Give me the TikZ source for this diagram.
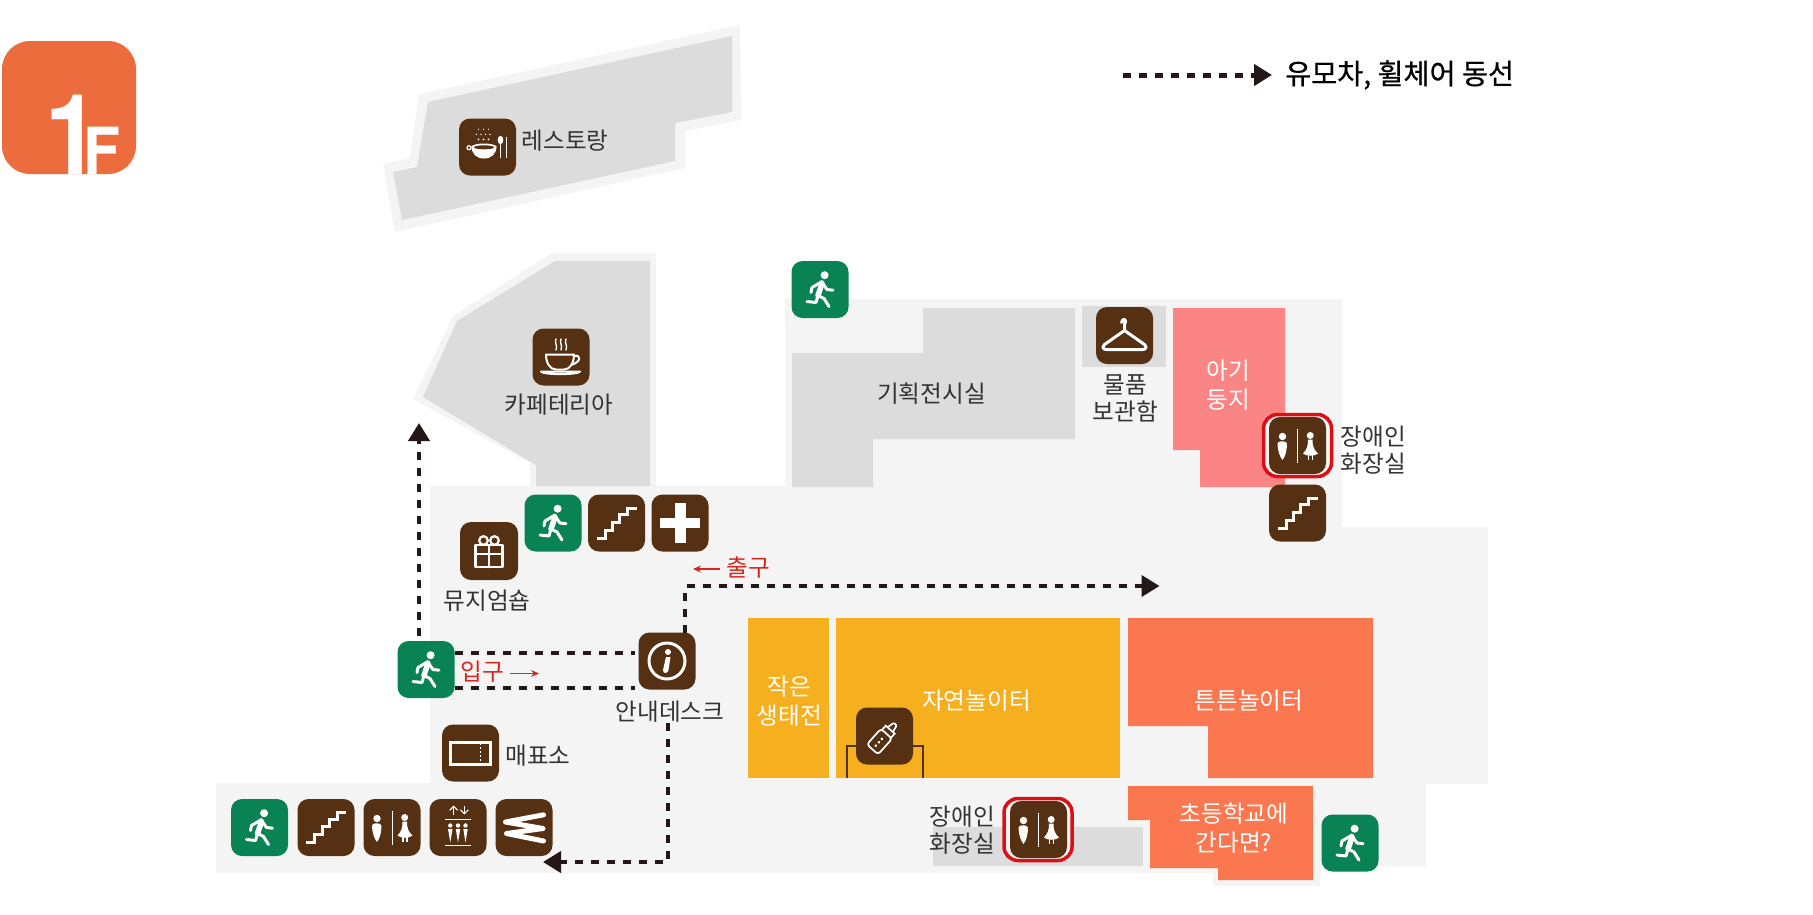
\documentclass[tikz,border=0pt]{standalone}
\usepackage{fontspec}
\setmainfont{Noto Sans CJK KR}
\newfontfamily\legendfont[FakeBold=0.6]{Noto Sans CJK KR}
\newfontfamily\badgefont{TeX Gyre Heros}
\usetikzlibrary{arrows.meta}
\definecolor{floorgray}{HTML}{F4F4F4}
\definecolor{roomgray}{HTML}{DCDCDC}
\definecolor{badgeorange}{HTML}{EC6C3E}
\definecolor{iconbrown}{HTML}{553013}
\definecolor{icongreen}{HTML}{0A8354}
\definecolor{nestpink}{HTML}{FB8585}
\definecolor{playyellow}{HTML}{F5AF1F}
\definecolor{playorange}{HTML}{FB7750}
\definecolor{framered}{HTML}{DD0F16}
\definecolor{signred}{HTML}{D9261C}
\definecolor{routeblack}{HTML}{231815}
\definecolor{textgray}{HTML}{333333}
\tikzset{brownicon/.style={shape=rectangle, rounded corners=11pt, fill=iconbrown, inner sep=0pt, outer sep=0pt, minimum width=57pt, minimum height=57pt}}
\tikzset{greenicon/.style={brownicon, fill=icongreen}}
\tikzset{redframe/.style={shape=rectangle, rounded corners=14pt, draw=framered, fill=floorgray, line width=3.5pt, inner sep=0pt, minimum width=68pt, minimum height=62pt}}
\tikzset{roomtext/.style={font=\fontsize{23.6}{27}\selectfont, text=textgray, align=center, inner sep=0pt}}
\tikzset{whitetext/.style={roomtext, text=white, font=\fontsize{23.6}{29}\selectfont}}
\tikzset{redtext/.style={roomtext, text=signred}}
\tikzset{route/.style={color=routeblack, line width=4pt, dash pattern=on 8pt off 8pt, -{Triangle[length=18pt,width=21pt]}}}
\tikzset{plainroute/.style={route, -}}
\tikzset{redarrow/.style={color=signred, line width=1.2pt, -{Stealth[length=8pt,width=7pt]}}}
\tikzset{glyphline/.style={draw=white, line width=3pt, line cap=round, line join=round}}
\tikzset{pics/runnerglyph/.style={code={
\fill[white] (4.6,-14.3) circle (4);
\draw[glyphline, line width=5.5pt] (2,-6) -- (-2,6);
\draw[glyphline] (2,-8) -- (-8,-2) -- (-9,3);
\draw[glyphline] (2,-7) -- (7,0) -- (13,0.7);
\draw[glyphline] (-2,6) -- (4,9) -- (9,17);
\draw[glyphline] (-2,6) -- (-4,13) -- (-13,12);
}}}
\tikzset{pics/stairglyph/.style={code={
\draw[draw=white, line width=3pt] (-19.6,15) -- (-11.3,15) -- (-11.3,7.3) -- (-4,7.3) -- (-4,-1) -- (3.3,-1) -- (3.3,-8.3) -- (11,-8.3) -- (11,-15) -- (20,-15);
}}}
\tikzset{pics/crossglyph/.style={code={
\fill[white] (-20,-5) rectangle (20,5);
\fill[white] (-5.5,-20) rectangle (5.5,20);
}}}
\tikzset{pics/giftglyph/.style={code={
\draw[glyphline, line width=2.2pt] (-13.5,-6) rectangle (13.5,16.3);
\draw[glyphline, line width=2.2pt] (-13.5,3) -- (13.5,3);
\draw[glyphline, line width=2.2pt] (0,-6) -- (0,16.3);
\draw[glyphline, line width=2.2pt] (-5.5,-10.5) circle (4.3);
\draw[glyphline, line width=2.2pt] (5.5,-10.5) circle (4.3);
}}}
\tikzset{pics/infoglyph/.style={code={
\draw[glyphline] (0,0) circle (18);
\fill[white] (1,-9) circle (3);
\fill[white] (-1,-4) -- (3.5,-4) -- (1.5,9) .. controls (0.5,13) and (-4,13) .. (-4,9) --cycle;
}}}
\tikzset{pics/ticketglyph/.style={code={
\draw[draw=white, line width=3pt] (-20,-11) rectangle (20,11);
\draw[draw=white, line width=1.6pt, dash pattern=on 1.6pt off 2.4pt] (10,-10) -- (10,10);
}}}
\tikzset{pics/toiletglyph/.style={code={
\draw[draw=white, line width=0.5pt] (0,-17) -- (0,17);
\fill[white] (-15,-9) circle (3.7);
\fill[white] (-20,-2) .. controls (-20,-5) and (-11,-5) .. (-10.5,-2) .. controls (-10.5,4) and (-12,11) .. (-15,14.5) .. controls (-18,11) and (-20,4) .. (-20,-2) --cycle;
\fill[white] (12.7,-10) circle (3.5);
\fill[white] (10.5,-6) -- (15,-6) .. controls (15,0) and (16,4) .. (20.5,8) .. controls (17,11) and (9,11) .. (5.5,8) .. controls (9.5,4) and (10.5,0) .. (10.5,-6) --cycle;
\draw[draw=white, line width=1.4pt] (10.8,9) -- (10.8,14.5);
\draw[draw=white, line width=1.4pt] (14.8,9) -- (14.8,14.5);
}}}
\tikzset{pics/liftglyph/.style={code={
\draw[draw=white, line width=1.1pt, -{Straight Barb[length=4pt,width=8pt]}] (-4.3,-13) -- (-4.3,-22);
\draw[draw=white, line width=1.1pt, -{Straight Barb[length=4pt,width=8pt]}] (6.3,-22) -- (6.3,-13);
\draw[draw=white, line width=1.8pt] (-13,-8) -- (13,-8);
\draw[draw=white, line width=1.8pt] (-13,18) -- (13,18);
\fill[white] (-7.7,-2) circle (2.2);
\fill[white] (0,-2) circle (2.2);
\fill[white] (7.5,-2) circle (2.2);
\fill[white] (-10,1.5) -- (-5.5,1.5) -- (-7.7,15) --cycle;
\fill[white] (-2.2,1.5) -- (2.2,1.5) -- (0,15) --cycle;
\fill[white] (5.3,1.5) -- (9.7,1.5) -- (7.5,15) --cycle;
}}}
\tikzset{pics/escalatorglyph/.style={code={
\draw[glyphline, line width=5pt] (19.5,-12.7) -- (-18.5,-5.5) -- (19,1) -- (-17.5,6) -- (19.5,13.5);
}}}
\tikzset{pics/bottleglyph/.style={code={
\begin{scope}[rotate=-42]
\draw[draw=white, line width=1.7pt, rounded corners=3pt] (-7.5,-3) rectangle (7.5,18);
\draw[draw=white, line width=1.7pt] (-6,-3) -- (-6,-8.5) -- (6,-8.5) -- (6,-3);
\draw[draw=white, line width=1.7pt, rounded corners=1pt] (-3.5,-8.5) -- (-2,-16) -- (2,-16) -- (3.5,-8.5);
\fill[white] (0,4) circle (1.5);
\fill[white] (0,8.5) circle (1.5);
\fill[white] (0,13) circle (1.5);
\end{scope}
}}}
\tikzset{pics/hangerglyph/.style={code={
\draw[glyphline] (-3,-13) .. controls (-2,-18) and (3,-17) .. (0,-11) -- (0,-5) -- (20,9) .. controls (23,12) and (21,14) .. (18,14) -- (-18,14) .. controls (-21,14) and (-23,12) .. (-20,9) -- (0,-5);
}}}
\tikzset{pics/cupglyph/.style={code={
\draw[glyphline, line width=1.4pt] (-5,-18) .. controls (-7,-14) and (-3,-12) .. (-5,-7);
\draw[glyphline, line width=1.4pt] (0,-18) .. controls (-2,-14) and (2,-12) .. (0,-7);
\draw[glyphline, line width=1.4pt] (5,-18) .. controls (3,-14) and (7,-12) .. (5,-7);
\draw[glyphline, line width=2pt] (-15,-2.5) -- (13,-2.5) .. controls (13,6) and (9,12.5) .. (3,12.5) -- (-5,12.5) .. controls (-11,12.5) and (-15,6) .. (-15,-2.5) --cycle;
\draw[glyphline, line width=2pt] (13,-1) .. controls (20,-3) and (21,5) .. (10,8);
\draw[glyphline, line width=2pt] (-20,14.5) -- (19,14.5) .. controls (17,18) and (-18,18) .. (-20,14.5) --cycle;
}}}
\tikzset{pics/dishglyph/.style={code={
\fill[white] (-9,-17.7) circle (0.6);
\fill[white] (-4,-17.7) circle (0.6);
\fill[white] (1,-17.7) circle (0.6);
\fill[white] (-11,-12.7) circle (0.8);
\fill[white] (-6.5,-12.7) circle (0.8);
\fill[white] (-2,-12.7) circle (0.8);
\fill[white] (2.5,-12.7) circle (0.8);
\fill[white] (-9,-7.7) circle (1);
\fill[white] (-4,-7.7) circle (1);
\fill[white] (1,-7.7) circle (1);
\fill[white] (-16,-1) -- (9,-1) .. controls (9,7) and (4,11.5) .. (-3.5,11.5) .. controls (-11,11.5) and (-16,7) .. (-16,-1) --cycle;
\draw[draw=white, line width=1.2pt] (-18.5,0.7) circle (2);
\fill[white] (-3.5,0) ellipse (12.5 and 3.5);
\fill[iconbrown] (-3.5,0.3) ellipse (10 and 2);
\fill[white] (13,-7) ellipse (2.8 and 4.2);
\draw[draw=white, line width=1.5pt] (13,-3) -- (13,11);
\draw[draw=white, line width=1.3pt] (19,-10) -- (19,11);
}}}
\begin{document}
\begin{tikzpicture}[x=1pt,y=-1pt]
\useasboundingbox (0,0) rectangle (1813,914);
\fill[color = badgeorange, rounded corners=28pt] (2,41) rectangle (136,174);
\node[anchor=base west, inner sep=0pt, text=white, font=\badgefont\bfseries] (badgetext) at (45,174) {\scalebox{0.87}[1]{\fontsize{112}{112}\selectfont 1}\hspace{-15.8pt}\scalebox{0.93}[1]{\fontsize{65}{65}\selectfont F}};
\fill[color = floorgray] (740,25) -- (741,120) -- (685,131) -- (685,168) -- (395,232) -- (383,164) -- (410,158) -- (419,94) --cycle;
\fill[color = roomgray] (732,36) -- (732,112) -- (675,123) -- (675,161) -- (402,220) -- (393,172) -- (417,167) -- (428,102) --cycle;
\fill[color = floorgray] (656,253) -- (656,487) -- (530,487) -- (530,463) -- (413,399) -- (453,316) -- (552,253) --cycle;
\fill[color = roomgray] (650,261) -- (650,487) -- (536,487) -- (536,465) -- (423,397) -- (457,321) -- (555,261) --cycle;
\fill[color = floorgray] (430,486) -- (785,486) -- (785,299) -- (1342,299) -- (1342,527) -- (1488,527) -- (1488,784) -- (1426,784) -- (1426,866) -- (1320,866) -- (1320,886) -- (1213,886) -- (1213,873) -- (216,873) -- (216,783) -- (430,783) --cycle;
\fill[color = roomgray] (923,308) -- (1075,308) -- (1075,439) -- (873,439) -- (873,487) -- (792,487) -- (792,353) -- (923,353) --cycle;
\fill[color = roomgray] (1082,306) rectangle (1166,367);
\fill[color = nestpink] (1173,308) -- (1285,308) -- (1285,487) -- (1200,487) -- (1200,450) -- (1173,450) --cycle;
\fill[color = playyellow] (748,618) rectangle (829,778);
\fill[color = playyellow] (836,618) rectangle (1120,778);
\fill[color = playorange] (1128,618) -- (1373,618) -- (1373,778) -- (1208,778) -- (1208,726) -- (1128,726) --cycle;
\fill[color = playorange] (1128,786) -- (1313,786) -- (1313,880) -- (1218,880) -- (1218,868) -- (1150,868) -- (1150,820) -- (1128,820) --cycle;
\fill[color = roomgray] (933,827) rectangle (1143,866);
\draw[color = iconbrown, line width=2pt] (847,778) -- (847,746) -- (923,746) -- (923,778);
\node[style=redframe] (wcframeup) at (1297.5,445.5) {};
\node[style=redframe] (wcframedown) at (1038,829.5) {};
\node[style=brownicon] (dish) at (487.5,147) {};
\pic at (dish) {dishglyph};
\node[style=brownicon] (cup) at (561,357) {};
\pic at (cup) {cupglyph};
\node[style=greenicon] (exittop) at (820,289.5) {};
\pic at (exittop) {runnerglyph};
\node[style=brownicon] (locker) at (1124.5,335.5) {};
\pic at (locker) {hangerglyph};
\node[style=brownicon] (wcup) at (1297.5,445.5) {};
\pic at (wcup) {toiletglyph};
\node[style=brownicon] (stairright) at (1297.5,513) {};
\pic at (stairright) {stairglyph};
\node[style=greenicon] (exitmid) at (553,523) {};
\pic at (exitmid) {runnerglyph};
\node[style=brownicon] (stairmid) at (616.5,523) {};
\pic at (stairmid) {stairglyph};
\node[style=brownicon] (aid) at (680,523) {};
\pic at (aid) {crossglyph};
\node[style=brownicon, minimum width=58pt, minimum height=58pt] (gift) at (489,551) {};
\pic at (gift) {giftglyph};
\node[style=greenicon] (exitin) at (426,669.5) {};
\pic at (exitin) {runnerglyph};
\node[style=brownicon] (info) at (667,661) {};
\pic at (info) {infoglyph};
\node[style=brownicon] (ticket) at (470.5,753) {};
\pic at (ticket) {ticketglyph};
\node[style=greenicon] (exitlow) at (259.5,827.5) {};
\pic at (exitlow) {runnerglyph};
\node[style=brownicon] (stairlow) at (326,827.5) {};
\pic at (stairlow) {stairglyph};
\node[style=brownicon] (wclow) at (392,827.5) {};
\pic at (wclow) {toiletglyph};
\node[style=brownicon] (lift) at (458,827.5) {};
\pic at (lift) {liftglyph};
\node[style=brownicon] (escalator) at (524,827.5) {};
\pic at (escalator) {escalatorglyph};
\node[style=brownicon] (bottle) at (884.5,736) {};
\pic at (bottle) {bottleglyph};
\node[style=brownicon] (wcdown) at (1038.5,829.5) {};
\pic at (wcdown) {toiletglyph};
\node[style=greenicon] (exitright) at (1350,843) {};
\pic at (exitright) {runnerglyph};
\node[style=roomtext] (dishtext) at (565,141) {레스토랑};
\node[style=roomtext] (cuptext) at (559,405) {카페테리아};
\node[style=roomtext] (halltext) at (931.5,394) {기획전시실};
\node[style=roomtext] (lockertext) at (1125.5,398) {물품\\보관함};
\node[style=whitetext] (nesttext) at (1228,385) {아기\\둥지};
\node[style=roomtext] (wcuptext) at (1373.5,450) {장애인\\화장실};
\node[style=roomtext] (gifttext) at (487,601) {뮤지엄숍};
\node[style=roomtext] (desktext) at (670,712) {안내데스크};
\node[style=roomtext] (tickettext) at (538,756) {매표소};
\node[style=whitetext] (pondtext) at (789.5,701) {작은\\생태전};
\node[style=whitetext] (naturetext) at (976.5,701) {자연놀이터};
\node[style=whitetext] (strongtext) at (1249,701) {튼튼놀이터};
\node[style=whitetext] (schooltext) at (1234,828.5) {초등학교에\\간다면?};
\node[style=roomtext] (wcdowntext) at (962.5,830.5) {장애인\\화장실};
\node[style=redtext] (intext) at (482,672) {입구};
\node[style=redtext] (outtext) at (748.5,568) {출구};
\node[anchor=west, inner sep=0pt, text=black, font=\legendfont\fontsize{28.3}{32}\selectfont] (legendtext) at (1285,75) {유모차, 휠체어 동선};
\coordinate (intail) at (510,673.5);
\coordinate (inhead) at (539,673.5);
\coordinate (outtail) at (720,569);
\coordinate (outhead) at (693,569);
\draw[style=redarrow] (intail) -- (inhead);
\draw[style=redarrow] (outtail) -- (outhead);
\coordinate (legendtail) at (1123,75);
\coordinate (legendhead) at (1272,75);
\draw[style=route, line width=5pt] (legendtail) -- (legendhead);
\coordinate (uptail) at (419,636);
\coordinate (uphead) at (419,423);
\draw[style=route] (uptail) -- (uphead);
\draw[style=plainroute] (exitin.east |- 0,653) -- ([xshift=-4pt]info.west |- 0,653);
\draw[style=plainroute] (exitin.east |- 0,688) -- ([xshift=-4pt]info.west |- 0,688);
\coordinate (outturn) at (685,586);
\coordinate (outend) at (1159.5,586);
\draw[style=route] (info.north -| outturn) -- (outturn) -- (outend);
\coordinate (lowturn) at (668,862);
\coordinate (lowend) at (543,862);
\draw[style=route] (desktext.south -| lowturn) -- (lowturn) -- (lowend);
\end{tikzpicture}
\end{document}
